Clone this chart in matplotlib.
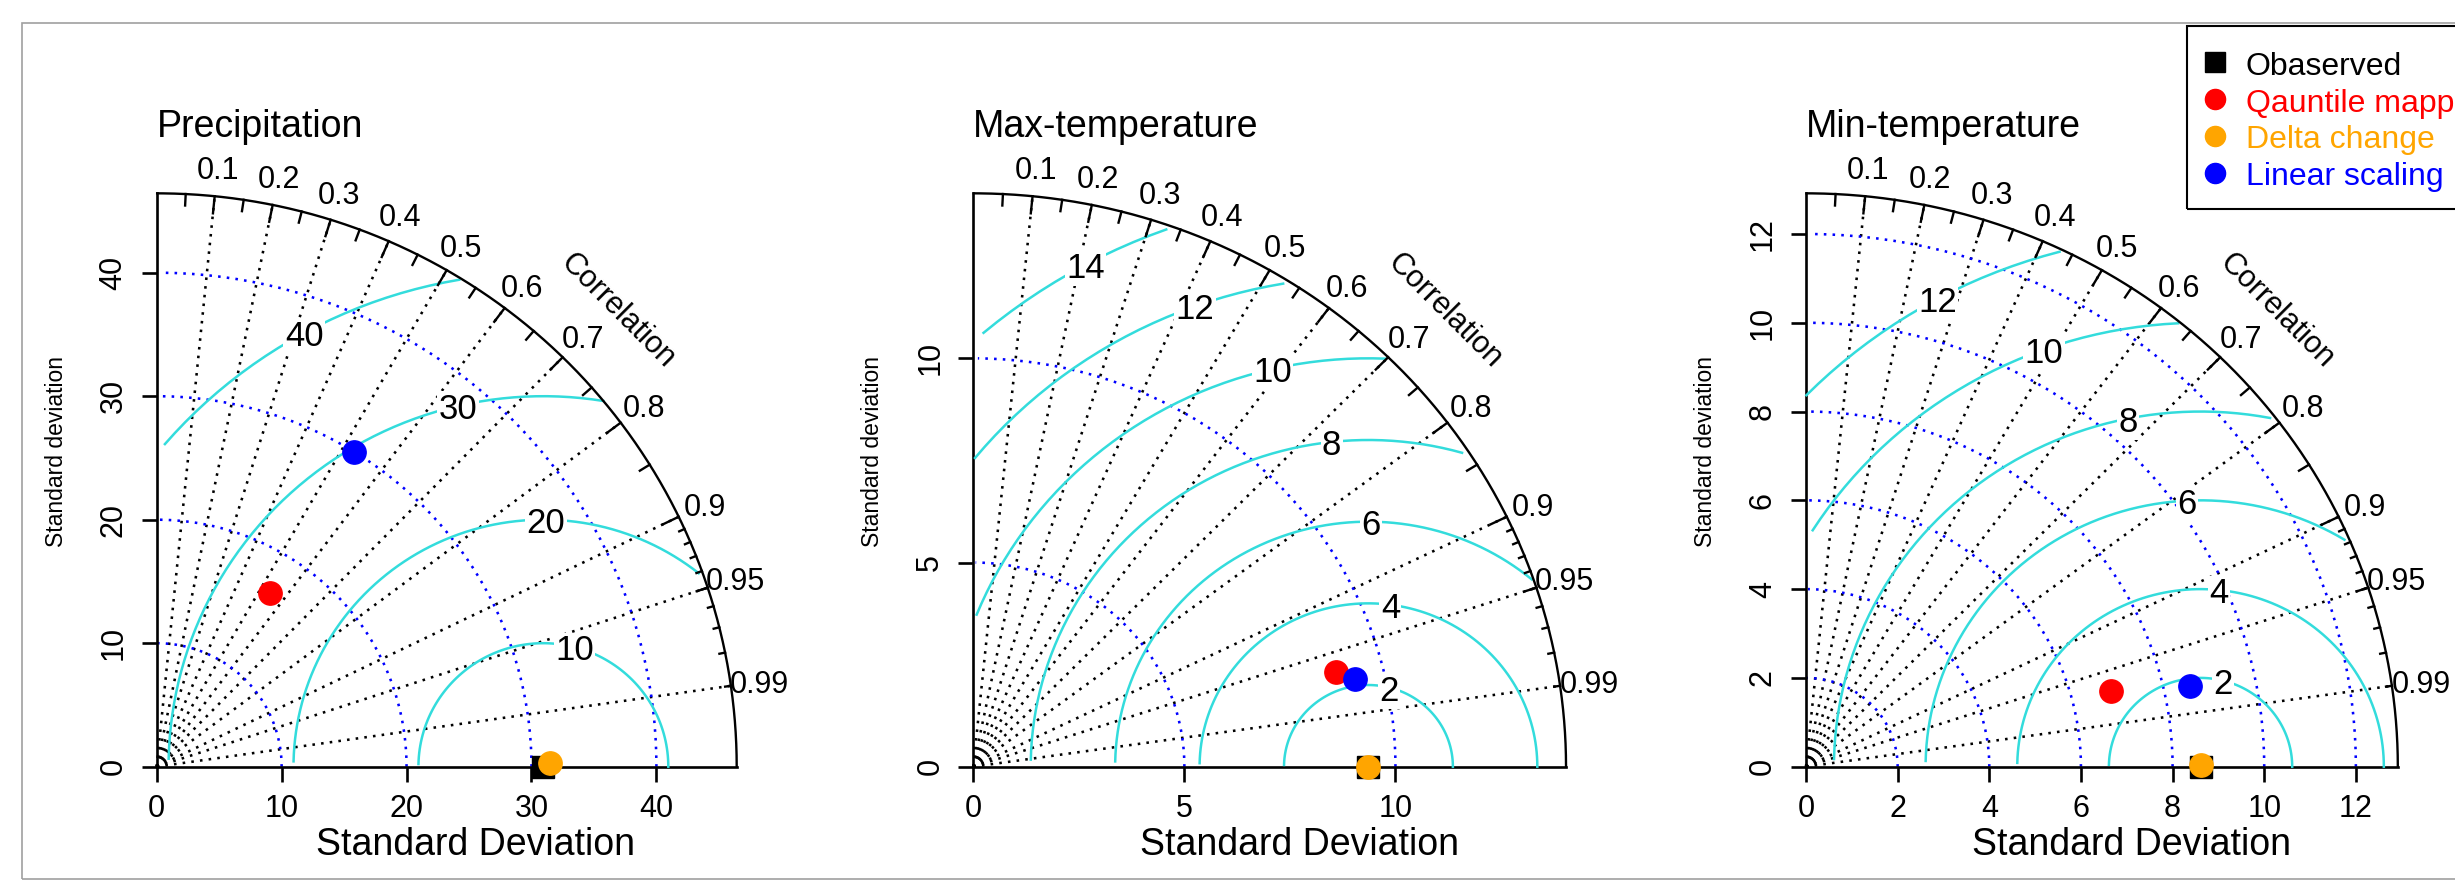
import numpy as np
import matplotlib
matplotlib.use("Agg")
import matplotlib.pyplot as plt
from matplotlib.patches import Rectangle
from matplotlib.lines import Line2D
from matplotlib.transforms import offset_copy

plt.rcParams['font.family'] = ['Liberation Sans', 'DejaVu Sans']

W, H = 2455, 880

# ---- data ----
titles = ["Precipitation", "Max-temperature", "Min-temperature"]
obs_sd = [30.95, 9.36, 8.61]
model_names = ["Qauntile mapping", "Delta change", "Linear scaling"]
model_cols = ["red", "orange", "blue"]
# per panel: Qauntile mapping, Delta change, Linear scaling
model_sd = [[16.71, 31.5, 30.0],
            [8.91, 9.36, 9.30],
            [6.86, 8.61, 8.575]]
model_cor = [[0.5415, 0.99996, 0.5267],
             [0.9655, 1.0, 0.9732],
             [0.9688, 0.99999, 0.9772]]
gammas = [[10, 20, 30, 40],
          [2, 4, 6, 8, 10, 12, 14],
          [2, 4, 6, 8, 10, 12]]
sd_ticks = [[0, 10, 20, 30, 40],
            [0, 5, 10],
            [0, 2, 4, 6, 8, 10, 12]]
cor_labels = [0.1, 0.2, 0.3, 0.4, 0.5, 0.6, 0.7, 0.8, 0.9, 0.95, 0.99]
cor_text = ["0.1", "0.2", "0.3", "0.4", "0.5", "0.6", "0.7", "0.8", "0.9", "0.95", "0.99"]

# ---- layout (pixels) ----
panel_left = [156.7, 973.3, 1806.0]
panel_w = [638.0, 652.0, 651.0]
base_y = 766.7
plot_h = 630.7

GAMMA_COL = "#33dcdc"
LW = 1.8
DOT_LW = 1.85
DOTS = (1.0, 2.4)


def fx(x):
    return x / W


def fy(y):
    return 1 - y / H


fig = plt.figure(figsize=(W / 100, H / 100), dpi=100)

# outer grey frame
fig.add_artist(Rectangle((fx(21.7), fy(878.5)), fx(2600) - fx(21.7), fy(23.3) - fy(878.5),
                         transform=fig.transFigure, fill=False, edgecolor="#a0a0a0", lw=1.2))

t_quarter = np.arange(0, np.pi / 2, 0.03)
t_half = np.arange(105) * 0.03
t_outer = np.arange(0, np.pi / 2, 0.01)

for i in range(3):
    sdr = obs_sd[i]
    maxsd = 1.5 * sdr
    lim = 1.1 * maxsd
    ax = fig.add_axes([fx(panel_left[i]), fy(base_y), panel_w[i] / W, plot_h / H])
    ax.set_xlim(0, lim)
    ax.set_ylim(0, lim)
    for s in ["top", "right"]:
        ax.spines[s].set_visible(False)
    for s in ["left", "bottom"]:
        ax.spines[s].set_linewidth(1.9)
        ax.spines[s].set_bounds(0, maxsd)
    ax.set_xticks(sd_ticks[i])
    ax.set_yticks(sd_ticks[i])
    ax.tick_params(length=10.8, width=1.9, direction="out", labelbottom=False, labelleft=False)
    ax.patch.set_visible(False)

    # tick labels
    tx = offset_copy(ax.transData, fig=fig, x=0, y=-50.6, units="dots")
    ty = offset_copy(ax.transData, fig=fig, x=-35, y=0, units="dots")
    for tk in sd_ticks[i]:
        ax.text(tk, 0, str(tk), transform=tx, ha="center", va="baseline", fontsize=22)
        ax.text(0, tk, str(tk), transform=ty, ha="center", va="baseline", fontsize=22,
                rotation=90, rotation_mode="anchor")

    # correlation radial lines
    for c in cor_labels:
        ax.plot([0, maxsd * c], [0, maxsd * np.sqrt(1 - c * c)], color="black", lw=DOT_LW,
                dashes=DOTS, zorder=1, clip_on=False)

    # sd arcs
    for sa in sd_ticks[i]:
        if sa == 0:
            continue
        ax.plot(np.cos(t_quarter) * sa, np.sin(t_quarter) * sa, color="blue", lw=DOT_LW,
                dashes=DOTS, zorder=2, clip_on=False)

    # centred RMS difference arcs
    g = gammas[i]
    labelpos = np.linspace(45, 70, len(g))
    for gi, gam in enumerate(g):
        xc = np.cos(t_half) * gam + sdr
        yc = np.sin(t_half) * gam
        neg = np.where(xc < 0)[0]
        end = neg.min() - 1 if len(neg) else 104
        outside = np.where(xc * xc + yc * yc > maxsd * maxsd)[0]
        start = outside.max() + 1 if len(outside) else 0
        ax.plot(xc[start:end + 1], yc[start:end + 1], color=GAMMA_COL, lw=LW, zorder=3,
                clip_on=False)
        k = int(np.floor(labelpos[gi])) - 1
        if xc[k] > 0:
            ax.text(xc[k], yc[k], str(gam), ha="center", va="center_baseline", fontsize=25,
                    zorder=4, bbox=dict(facecolor="white", edgecolor="none", pad=1.0))

    # outer correlation arc and ticks
    ax.plot(np.cos(t_outer) * maxsd, np.sin(t_outer) * maxsd, color="black", lw=1.7, zorder=5,
            clip_on=False)
    big = np.arccos(np.arange(1, 10) / 10)
    med = np.arccos(np.arange(0.05, 0.96, 0.1))
    sml = np.arccos(np.arange(91, 100) / 100)
    for angs, f in [(big, 0.97), (med, 0.98), (sml, 0.99)]:
        for a in angs:
            ax.plot([np.cos(a) * maxsd, np.cos(a) * f * maxsd],
                    [np.sin(a) * maxsd, np.sin(a) * f * maxsd], color="black", lw=1.7,
                    zorder=5, clip_on=False)
    for c, ct in zip(cor_labels, cor_text):
        a = np.arccos(c)
        ax.text(np.cos(a) * 1.05 * maxsd, np.sin(a) * 1.05 * maxsd, ct, ha="center",
                va="center_baseline", fontsize=22, zorder=5)
    ax.text(0.8 * maxsd, 0.8 * maxsd, "Correlation", rotation=-45, rotation_mode="anchor",
            ha="center", va="center_baseline", fontsize=22, zorder=5)

    # points
    ax.plot([sdr], [0], marker="s", ms=16.3, color="black", ls="none", zorder=6, clip_on=False)
    for sd, cr, col in zip(model_sd[i], model_cor[i], model_cols):
        ax.plot([sd * cr], [sd * np.sqrt(max(0.0, 1 - cr * cr))], marker="o", ms=16.8,
                color=col, ls="none", zorder=7, clip_on=False)

    # titles and axis labels
    fig.text(fx(panel_left[i]), fy(136.7), titles[i], ha="left", va="baseline", fontsize=27)
    fig.text(fx(panel_left[i] + panel_w[i] / 2), fy(855), "Standard Deviation", ha="center",
             va="baseline", fontsize=27)
    fig.text(fx(panel_left[i] - 94), fy(base_y - plot_h / 2), "Standard deviation",
             ha="center", va="baseline", rotation=90, rotation_mode="anchor", fontsize=16.5)

# legend box
fig.add_artist(Rectangle((fx(2186.7), fy(209)), fx(2600) - fx(2186.7), fy(26) - fy(209),
                         transform=fig.transFigure, fill=False, edgecolor="black", lw=1.5))
leg_marker_y = [61.7, 99, 136, 172.7]
leg_text_y = [75, 111.7, 148.3, 185]
leg_labels = ["Obaserved"] + model_names
leg_cols = ["black"] + model_cols
leg_marks = ["s", "o", "o", "o"]
for j in range(4):
    fig.add_artist(Line2D([fx(2215)], [fy(leg_marker_y[j])], marker=leg_marks[j],
                          ms=14 if leg_marks[j] == "s" else 14.5, color=leg_cols[j], ls="none",
                          transform=fig.transFigure))
    fig.text(fx(2245.7), fy(leg_text_y[j]), leg_labels[j], color=leg_cols[j], ha="left",
             va="baseline", fontsize=23)

fig.savefig("out.png", dpi=100)
